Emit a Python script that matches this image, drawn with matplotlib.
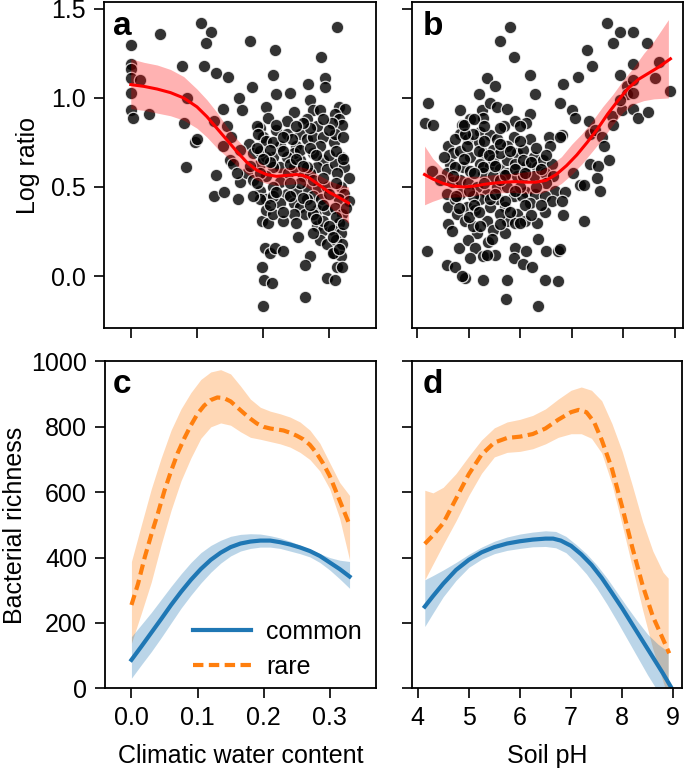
import matplotlib
matplotlib.use("Agg")
import matplotlib.pyplot as plt

plt.rcParams['font.family'] = ['Liberation Sans', 'DejaVu Sans']

# ---------------- Panel a: log ratio vs climatic water content ----------------
cwc_x = [0.0, 0.0, 0.0, 0.0, 0.014, 0.0, 0.0, 0.004, 0.027, 0.044, 0.078, 0.085, 0.08, 0.097,
         0.10, 0.084, 0.106, 0.121, 0.114, 0.11, 0.129, 0.147, 0.125, 0.139, 0.145, 0.14, 0.152,
         0.129, 0.125, 0.141, 0.162, 0.15, 0.165, 0.163, 0.168, 0.18, 0.183, 0.218, 0.215, 0.22,
         0.205, 0.208, 0.195, 0.20, 0.178, 0.185, 0.195, 0.175, 0.185, 0.195, 0.205, 0.198, 0.205,
         0.208, 0.203, 0.21, 0.218, 0.23, 0.198, 0.201, 0.213, 0.199, 0.24, 0.246, 0.236, 0.22,
         0.225, 0.215, 0.225, 0.238, 0.225, 0.215, 0.236, 0.246, 0.225, 0.215, 0.23, 0.256, 0.25,
         0.256, 0.266, 0.26, 0.266, 0.25, 0.256, 0.263, 0.268, 0.27, 0.276, 0.266, 0.281, 0.276,
         0.291, 0.286, 0.276, 0.291, 0.281, 0.296, 0.271, 0.283, 0.296, 0.276, 0.288, 0.281, 0.296,
         0.281, 0.291, 0.286, 0.296, 0.27, 0.263, 0.276, 0.253, 0.263, 0.288, 0.294, 0.294, 0.311,
         0.314, 0.324, 0.309, 0.314, 0.319, 0.307, 0.317, 0.309, 0.322, 0.312, 0.329, 0.317, 0.322,
         0.314, 0.329, 0.309, 0.319, 0.314, 0.306, 0.317, 0.31, 0.319, 0.307, 0.317, 0.312, 0.319,
         0.296, 0.309, 0.306, 0.291, 0.30, 0.19, 0.192, 0.205, 0.215, 0.236, 0.244, 0.246, 0.236,
         0.205, 0.195, 0.215, 0.205, 0.195, 0.246, 0.256, 0.241, 0.215, 0.195, 0.185, 0.246, 0.276,
         0.266, 0.276, 0.266, 0.256, 0.309, 0.304, 0.286, 0.165, 0.155, 0.16,
         0.19, 0.21, 0.23, 0.24, 0.25, 0.26, 0.27, 0.28, 0.29, 0.30, 0.31, 0.32, 0.30, 0.29,
         0.27, 0.26, 0.25, 0.23, 0.22, 0.21, 0.20, 0.18, 0.19, 0.22, 0.24, 0.26, 0.27, 0.29,
         0.31, 0.32, 0.30, 0.28, 0.25, 0.23, 0.21, 0.31, 0.32, 0.325, 0.305, 0.315]
cwc_y = [1.30, 1.19, 1.16, 1.11, 1.10, 1.03, 0.93, 0.89, 0.91, 1.36, 1.18, 1.00, 0.86, 0.75,
         0.77, 0.61, 1.42, 1.37, 1.31, 1.18, 1.14, 1.12, 0.87, 0.94, 0.84, 0.73, 0.78,
         0.57, 0.45, 0.47, 0.43, 0.65, 0.53, 1.00, 0.93, 1.32, 1.06, 1.27, 1.13, 1.02,
         0.95, 0.89, 0.83, 0.78, 0.74, 0.69, 0.63, 0.58, 0.54, 0.48, 0.43, 0.31, 0.37,
         0.30, 0.16, 0.13, 0.16, 0.14, 0.05, -0.02, -0.04, -0.17, 1.03, 0.92, 0.87, 0.82,
         0.73, 0.67, 0.61, 0.58, 0.53, 0.50, 0.46, 0.41, 0.41, 0.35, 0.31, 0.80, 0.73,
         0.65, 0.77, 0.56, 0.49, 0.48, 0.39, 0.35, 1.08, 0.99, 0.93, 0.88, 0.84, 0.78,
         0.78, 0.73, 0.69, 0.65, 0.61, 0.60, 0.58, 0.50, 0.50, 0.45, 0.43, 0.37, 0.37,
         0.28, 0.26, 0.20, 0.18, 0.11, 0.06, 0.24, 0.22, -0.12, 1.23, 1.11, 1.06, 1.40,
         0.95, 0.94, 0.91, 0.88, 0.85, 0.75, 0.67, 0.63, 0.61, 0.58, 0.55, 0.50, 0.46,
         0.43, 0.42, 0.38, 0.35, 0.30, 0.26, 0.24, 0.20, 0.18, 0.13, 0.11, 0.05, 0.05,
         -0.01, -0.02, 0.13, 0.31, 0.46, 0.84, 0.80, 0.76, 0.75, 0.80, 0.77, 0.69, 0.67,
         0.67, 0.70, 0.61, 0.56, 0.58, 0.61, 0.52, 0.52, 0.45, 0.43, 0.45, 0.35, 0.35,
         0.43, 0.54, 0.61, 0.71, 0.80, 0.86, 0.93, 0.71, 0.63, 0.58,
         0.72, 0.64, 0.70, 0.63, 0.66, 0.62, 0.72, 0.68, 0.55, 0.68, 0.70, 0.78, 0.82, 0.88,
         0.83, 0.86, 0.84, 0.78, 0.85, 0.71, 0.66, 0.62, 0.52, 0.47, 0.45, 0.44, 0.40, 0.40,
         0.33, 0.29, 0.28, 0.32, 0.30, 0.36, 0.40, 0.52, 0.66, 0.38, 0.22, 0.15]

cwc_fit_x = [0.0, 0.02, 0.04, 0.06, 0.08, 0.10, 0.115, 0.13, 0.145, 0.16, 0.175, 0.19, 0.205,
             0.22, 0.235, 0.25, 0.26, 0.27, 0.285, 0.30, 0.315, 0.329]
cwc_fit_y = [1.075, 1.065, 1.05, 1.03, 1.0, 0.95, 0.895, 0.83, 0.765, 0.70, 0.64, 0.595, 0.57,
             0.56, 0.565, 0.57, 0.565, 0.55, 0.51, 0.47, 0.44, 0.41]
cwc_band_x = [0.0, 0.02, 0.04, 0.06, 0.08, 0.10, 0.115, 0.13, 0.145, 0.16, 0.175, 0.19, 0.205,
              0.22, 0.24, 0.255, 0.27, 0.285, 0.30, 0.315, 0.329]
cwc_band_hi = [1.22, 1.20, 1.185, 1.16, 1.12, 1.05, 0.99, 0.92, 0.84, 0.77, 0.71, 0.65, 0.615,
               0.605, 0.61, 0.615, 0.60, 0.565, 0.535, 0.515, 0.50]
cwc_band_lo = [0.94, 0.93, 0.915, 0.90, 0.875, 0.83, 0.78, 0.72, 0.67, 0.62, 0.575, 0.54, 0.52,
               0.51, 0.515, 0.52, 0.49, 0.44, 0.39, 0.34, 0.295]

# ---------------- Panel b: log ratio vs soil pH ----------------
ph_x = [4.21, 4.15, 4.30, 4.18, 4.28, 4.60, 4.70, 4.64, 4.57, 4.67, 4.57, 4.60, 4.77, 4.60,
        4.67, 4.80, 4.57, 4.73, 4.93, 4.86, 4.83, 5.02, 4.86, 4.83, 4.99, 4.83, 5.02, 4.89,
        5.02, 4.83, 4.99, 4.83, 4.96, 5.12, 4.93, 5.15, 4.99, 5.12, 5.02, 5.28, 5.28, 5.19,
        5.35, 5.51, 5.25, 5.41, 5.28, 5.54, 5.74, 5.22, 5.41, 5.19, 5.28, 5.48, 5.22, 5.41,
        5.28, 5.48, 5.61, 5.15, 5.35, 5.54, 5.22, 5.41, 5.57, 5.35, 5.48, 5.38, 5.51, 5.35,
        5.74, 5.72, 5.61, 5.80, 5.87, 5.90, 5.68, 5.87, 5.74, 5.93, 5.74, 5.90, 5.74, 5.93,
        5.74, 5.87, 5.71, 5.93, 5.74, 5.90, 5.71, 5.90, 5.87, 6.06, 6.12, 6.22, 6.35, 6.19,
        6.28, 6.19, 6.12, 6.19, 6.06, 6.26, 6.12, 6.32, 6.06, 6.26, 6.12, 6.29, 6.03, 6.19,
        6.09, 6.32, 6.35, 6.55, 6.58, 6.45, 6.61, 6.48, 6.64, 6.51, 6.67, 6.48, 6.61, 6.48,
        6.51, 6.48, 6.74, 6.77, 6.74, 6.77, 6.81, 6.84, 6.87, 6.81, 6.84, 6.77, 7.00, 7.07,
        7.03, 7.13, 7.16, 7.24, 7.24, 7.29, 7.39, 7.33, 7.36, 7.46, 7.36, 7.52, 7.49, 7.55,
        7.59, 7.62, 7.72, 7.68, 7.81, 7.78, 7.81, 7.94, 8.19, 7.94, 8.07, 8.19, 8.19, 7.98,
        8.07, 8.19, 8.28, 8.48, 8.46, 8.69, 8.62, 8.92, 8.19, 7.94, 4.96, 5.09, 5.54, 5.61,
        6.06, 5.48, 5.61, 5.09, 5.41, 5.99, 5.61, 5.09, 5.22, 4.73, 4.44, 4.51, 4.73, 4.73,
        4.93, 5.28,
        4.9, 5.1, 5.2, 5.3, 5.4, 5.5, 5.6, 5.7, 5.8, 5.9, 6.0, 6.1, 6.2, 6.3, 6.4, 6.5,
        5.0, 5.1, 5.3, 5.5, 5.7, 5.9, 6.1, 6.3, 6.4, 4.8, 5.0, 5.2, 5.6, 5.8, 6.0, 6.2,
        4.7, 4.9, 5.1, 5.6, 6.0, 5.3, 4.75, 5.45]
ph_y = [0.97, 0.86, 0.85, 0.14, 0.59, 0.73, 0.69, 0.63, 0.58, 0.53, 0.46, 0.39, 0.35, 0.29,
        0.25, 0.16, 0.06, 0.05, -0.01, 0.00, 0.93, 0.88, 0.85, 0.80, 0.77, 0.70, 0.67, 0.61,
        0.59, 0.54, 0.52, 0.46, 0.39, 0.37, 0.31, 0.24, 0.20, 0.16, 0.10, 0.11, -0.02, 1.02,
        1.11, 1.07, 0.93, 0.97, 0.89, 0.95, 0.94, 0.81, 0.79, 0.75, 0.69, 0.71, 0.63, 0.62,
        0.58, 0.65, 0.60, 0.50, 0.46, 0.50, 0.43, 0.39, 0.43, 0.31, 0.26, 0.19, 0.12, 0.12,
        -0.02, -0.13, 1.32, 1.40, 1.23, 0.87, 0.84, 0.78, 0.73, 0.69, 0.65, 0.63, 0.58, 0.56,
        0.50, 0.45, 0.39, 0.35, 0.31, 0.30, 0.24, 0.16, 0.10, 0.07, 0.14, 0.05, -0.17, 1.13,
        1.02, 0.91, 0.86, 0.77, 0.71, 0.67, 0.62, 0.61, 0.56, 0.56, 0.47, 0.46, 0.45, 0.41,
        0.31, 0.30, 0.21, 0.78, 0.73, 0.65, 0.63, 0.58, 0.56, 0.52, 0.48, 0.45, 0.42, 0.36,
        0.14, -0.02, 0.14, 0.15, -0.03, 0.97, 0.79, 1.08, 0.47, 0.42, 0.34, 0.78, 0.93, 0.89,
        0.58, 1.12, 0.51, 0.51, 0.31, 1.27, 1.18, 0.87, 0.80, 0.82, 0.63, 0.62, 0.55, 0.48,
        0.78, 0.73, 0.65, 1.42, 1.31, 0.90, 0.85, 1.37, 1.37, 1.13, 1.07, 1.19, 1.10, 0.93,
        1.02, 0.94, 0.89, 0.92, 1.31, 1.20, 1.11, 1.04, 1.03, 0.99, 0.73, 0.80, 0.77, 0.69,
        0.65, 0.56, 0.54, 0.45, 0.43, 0.50, 0.35, 0.28, 0.28, 0.43, 0.54, 0.67, 0.61, 0.77,
        0.80, 0.61,
        0.66, 0.58, 0.70, 0.76, 0.68, 0.62, 0.74, 0.57, 0.70, 0.60, 0.76, 0.58, 0.64, 0.72, 0.60, 0.68,
        0.48, 0.40, 0.52, 0.46, 0.42, 0.48, 0.40, 0.50, 0.40, 0.38, 0.33, 0.36, 0.29, 0.36, 0.30, 0.34,
        0.56, 0.85, 0.88, 0.83, 0.84, 0.84, 0.45, 0.21]

ph_fit_x = [4.14, 4.3, 4.5, 4.7, 4.9, 5.1, 5.3, 5.5, 5.7, 5.9, 6.1, 6.3, 6.5, 6.7, 6.9, 7.1,
            7.3, 7.5, 7.7, 7.9, 8.1, 8.3, 8.5, 8.7, 8.92]
ph_fit_y = [0.57, 0.545, 0.52, 0.505, 0.50, 0.505, 0.515, 0.522, 0.527, 0.53, 0.527, 0.527,
            0.537, 0.57, 0.62, 0.68, 0.75, 0.825, 0.91, 0.985, 1.055, 1.105, 1.14, 1.175, 1.22]
ph_band_x = [4.14, 4.3, 4.5, 4.7, 4.9, 5.2, 5.5, 5.8, 6.1, 6.4, 6.6, 6.8, 7.0, 7.2, 7.4, 7.6,
             7.8, 8.0, 8.2, 8.4, 8.6, 8.88]
ph_band_hi = [0.73, 0.66, 0.60, 0.57, 0.56, 0.56, 0.57, 0.575, 0.585, 0.595, 0.625, 0.67, 0.74,
              0.80, 0.87, 0.95, 1.02, 1.10, 1.17, 1.25, 1.32, 1.44]
ph_band_lo = [0.40, 0.42, 0.44, 0.443, 0.445, 0.455, 0.465, 0.47, 0.465, 0.465, 0.485, 0.52,
              0.57, 0.63, 0.70, 0.77, 0.85, 0.92, 0.965, 0.985, 0.995, 1.00]

# ---------------- Panel c: richness vs climatic water content ----------------
c_rare_x = [0.0, 0.01, 0.02, 0.03, 0.04, 0.05, 0.06, 0.07, 0.08, 0.09, 0.10, 0.11, 0.12, 0.13,
            0.14, 0.15, 0.16, 0.17, 0.18, 0.19, 0.20, 0.21, 0.22, 0.23, 0.24, 0.25, 0.26, 0.27,
            0.28, 0.29, 0.30, 0.31, 0.32, 0.33]
c_rare_y = [255, 320, 400, 470, 535, 605, 665, 720, 765, 805, 840, 865, 882, 890, 888, 878, 860,
            842, 825, 810, 800, 795, 792, 789, 782, 773, 762, 745, 720, 688, 650, 600, 550, 500]
c_band_x = [0.0, 0.015, 0.03, 0.045, 0.06, 0.075, 0.09, 0.105, 0.12, 0.135, 0.15, 0.165, 0.18,
            0.195, 0.21, 0.225, 0.24, 0.255, 0.27, 0.285, 0.30, 0.315, 0.33]
c_rare_hi = [388, 500, 610, 705, 790, 855, 905, 945, 968, 975, 962, 925, 885, 860, 848, 840, 830,
             815, 790, 750, 690, 630, 590]
c_rare_lo = [138, 230, 325, 440, 545, 635, 705, 765, 800, 812, 805, 785, 768, 762, 755, 748, 738,
             722, 700, 665, 610, 520, 393]
c_common_y = [87, 128, 170, 212, 255, 295, 332, 365, 393, 415, 432, 443, 449, 452, 452, 447, 440,
              431, 420, 405, 385, 365, 342]
c_common_hi = [158, 195, 232, 272, 312, 350, 385, 415, 437, 453, 465, 471, 473, 472, 467, 460, 450,
               438, 425, 412, 400, 392, 388]
c_common_lo = [31, 72, 112, 155, 200, 245, 285, 322, 355, 383, 405, 420, 428, 432, 432, 428, 420,
               412, 402, 385, 362, 335, 306]

# ---------------- Panel d: richness vs soil pH ----------------
d_rare_x = [4.14, 4.3, 4.5, 4.75, 5.0, 5.25, 5.5, 5.75, 6.0, 6.25, 6.5, 6.75, 7.0, 7.15, 7.3,
            7.45, 7.6, 7.8, 8.0, 8.2, 8.4, 8.6, 8.8, 8.92]
d_rare_y = [442, 468, 505, 580, 655, 715, 752, 766, 770, 778, 795, 822, 845, 852, 845, 815, 760,
            672, 555, 430, 315, 220, 150, 107]
d_band_x = [4.14, 4.3, 4.5, 4.75, 5.0, 5.25, 5.5, 5.75, 6.0, 6.25, 6.5, 6.75, 7.0, 7.2, 7.4,
            7.6, 7.8, 8.0, 8.2, 8.4, 8.6, 8.8, 8.9]
d_rare_hi = [606, 598, 615, 657, 710, 760, 797, 815, 823, 835, 855, 885, 912, 922, 912, 880, 810,
             725, 620, 510, 420, 355, 337]
d_rare_lo = [332, 380, 440, 512, 590, 658, 708, 722, 725, 733, 748, 768, 779, 779, 765, 720, 625,
             500, 370, 240, 120, 20, -30]
d_common_x = [4.14, 4.3, 4.5, 4.75, 5.0, 5.25, 5.5, 5.75, 6.0, 6.25, 6.5, 6.65, 6.8, 7.0, 7.2,
              7.4, 7.6, 7.8, 8.0, 8.2, 8.4, 8.6, 8.8, 8.95]
d_common_y = [250, 282, 320, 362, 393, 416, 432, 443, 450, 455, 458, 458, 452, 436, 410, 378, 338,
              292, 245, 195, 145, 95, 45, 5]
d_cband_x = [4.14, 4.3, 4.5, 4.75, 5.0, 5.25, 5.5, 5.75, 6.0, 6.25, 6.5, 6.7, 6.9, 7.1, 7.3, 7.5,
             7.7, 7.9, 8.1, 8.3, 8.5, 8.7, 8.9]
d_common_hi = [332, 345, 362, 385, 410, 432, 450, 463, 472, 478, 482, 480, 465, 440, 412, 378, 338,
               293, 248, 205, 165, 135, 112]
d_common_lo = [189, 230, 280, 330, 370, 395, 412, 422, 428, 433, 434, 430, 415, 385, 350, 307, 258,
               205, 150, 95, 40, -10, -50]

panel_letters = ['a', 'b', 'c', 'd']
series_names = ['common', 'rare']

W, H = 685, 769
fig = plt.figure(figsize=(W / 100, H / 100), dpi=100)

def frac(l, t, r, b):
    return [l / W, 1 - b / H, (r - l) / W, (b - t) / H]

ax_a = fig.add_axes(frac(104.3, 2, 375.7, 328))
ax_b = fig.add_axes(frac(411.7, 2, 683.3, 328))
ax_c = fig.add_axes(frac(105, 361.5, 376, 688.3))
ax_d = fig.add_axes(frac(412, 361.5, 682, 688.3))

FS = 18
for ax in (ax_a, ax_b, ax_c, ax_d):
    for s in ax.spines.values():
        s.set_linewidth(1.3)
    ax.tick_params(direction='out', length=7, width=1.2, labelsize=FS, pad=6)

red = '#ff0000'
sc_kw = dict(s=80, c='black', alpha=0.8, edgecolors='white', linewidths=0.9, zorder=2)
# a
ax_a.fill_between(cwc_band_x, cwc_band_lo, cwc_band_hi, color=red, alpha=0.3, lw=0, zorder=3)
ax_a.scatter(cwc_x, cwc_y, **sc_kw)
ax_a.plot(cwc_fit_x, cwc_fit_y, color=red, lw=2.2, zorder=4)
ax_a.set_xlim(-0.04, 0.37)
ax_a.set_ylim(-0.292, 1.539)
ax_a.set_xticks([0.0, 0.1, 0.2, 0.3])
ax_a.set_xticklabels([])
ax_a.set_yticks([0.0, 0.5, 1.0, 1.5])
ax_a.set_ylabel('Log ratio', fontsize=FS, labelpad=8)

# b
ax_b.fill_between(ph_band_x, ph_band_lo, ph_band_hi, color=red, alpha=0.3, lw=0, zorder=3)
ax_b.scatter(ph_x, ph_y, **sc_kw)
ax_b.plot(ph_fit_x, ph_fit_y, color=red, lw=2.2, zorder=4)
ax_b.set_xlim(3.89, 9.17)
ax_b.set_ylim(-0.292, 1.539)
ax_b.set_xticks([4, 5, 6, 7, 8, 9])
ax_b.set_xticklabels([])
ax_b.set_yticks([0.0, 0.5, 1.0, 1.5])
ax_b.set_yticklabels([])

blue = '#1f77b4'
orange = '#ff7f0e'
# c
ax_c.fill_between(c_band_x, c_rare_lo, c_rare_hi, color=orange, alpha=0.3, lw=0)
ax_c.fill_between(c_band_x, c_common_lo, c_common_hi, color=blue, alpha=0.3, lw=0)
ax_c.plot(c_band_x, c_common_y, color=blue, lw=3, label=series_names[0])
ax_c.plot(c_rare_x, c_rare_y, color=orange, lw=3, ls=(0, (2.5, 1.3)), label=series_names[1])
ax_c.set_xlim(-0.04, 0.37)
ax_c.set_ylim(0, 1000)
ax_c.set_xticks([0.0, 0.1, 0.2, 0.3])
ax_c.set_yticks([0, 200, 400, 600, 800, 1000])
ax_c.set_xlabel('Climatic water content', fontsize=FS, labelpad=10)
ax_c.set_ylabel('Bacterial richness', fontsize=FS, labelpad=3)
ax_c.legend(loc='lower right', frameon=False, fontsize=FS, handlelength=2.3,
            bbox_to_anchor=(1.03, -0.04), labelspacing=0.45, handletextpad=0.6)

# d
ax_d.fill_between(d_band_x, d_rare_lo, d_rare_hi, color=orange, alpha=0.3, lw=0)
ax_d.fill_between(d_cband_x, d_common_lo, d_common_hi, color=blue, alpha=0.3, lw=0)
ax_d.plot(d_common_x, d_common_y, color=blue, lw=3)
ax_d.plot(d_rare_x, d_rare_y, color=orange, lw=3, ls=(0, (2.5, 1.3)))
ax_d.set_xlim(3.89, 9.17)
ax_d.set_ylim(0, 1000)
ax_d.set_xticks([4, 5, 6, 7, 8, 9])
ax_d.set_yticks([0, 200, 400, 600, 800, 1000])
ax_d.set_yticklabels([])
ax_d.set_xlabel('Soil pH', fontsize=FS, labelpad=10)

for ax, letter, x0, yb in zip((ax_a, ax_b, ax_c, ax_d), panel_letters,
                               (0.033, 0.04, 0.03, 0.04), (0.899, 0.899, 0.904, 0.904)):
    ax.text(x0, yb, letter, transform=ax.transAxes, fontsize=24, fontweight='bold',
            ha='left', va='baseline', zorder=10)

fig.savefig('out.png', dpi=100)
